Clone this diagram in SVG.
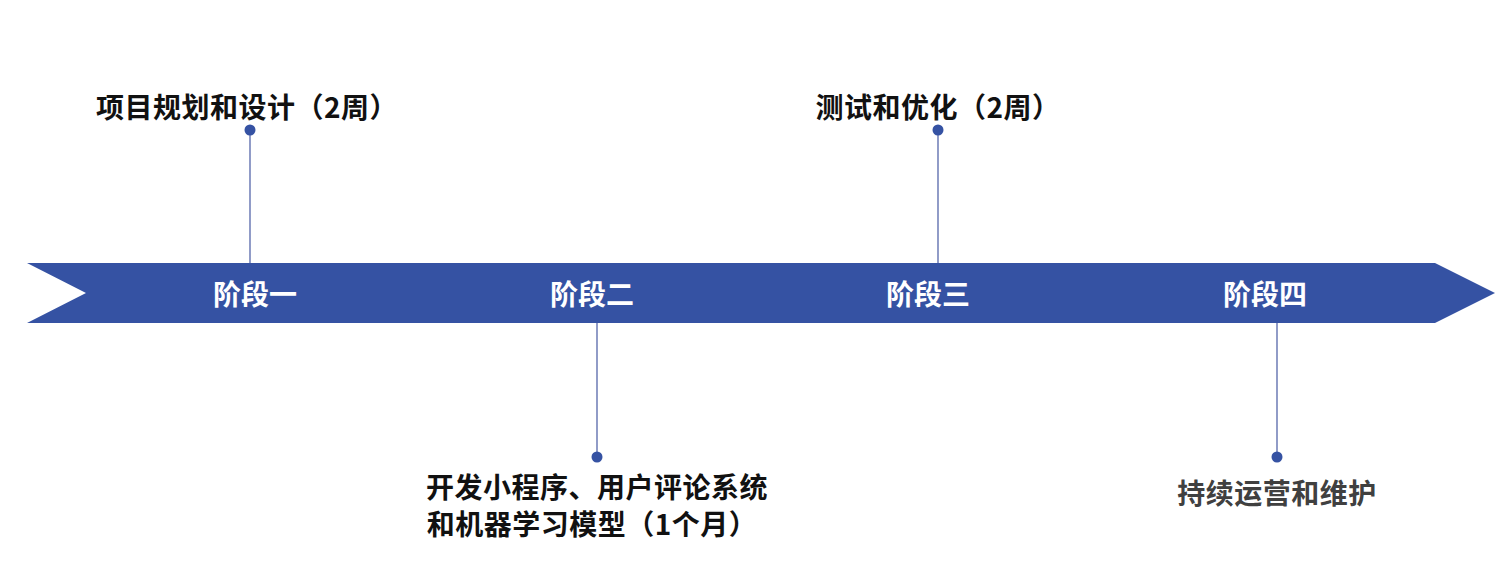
<svg xmlns="http://www.w3.org/2000/svg" width="1504" height="568" viewBox="0 0 1504 568">
<style>
.lbl{font-family:"Noto Sans CJK SC","Liberation Sans",sans-serif;font-weight:bold;font-size:28px;letter-spacing:0.5px;fill:#111}
.stage{font-family:"Noto Sans CJK SC","Liberation Sans",sans-serif;font-weight:bold;font-size:28px;fill:#fff}
.ln{stroke:#5566aa;stroke-width:1.3}
.dot{fill:#3552a3}
</style>
<rect width="1504" height="568" fill="#fff"/>
<g id="band">
<polygon points="27,263 1435,263 1495,293 1435,323 27,323 86,293" fill="#3552a3"/>
</g>
<g id="connectors">
<line class="ln" x1="250" y1="130" x2="250" y2="263"/>
<line class="ln" x1="938" y1="130" x2="938" y2="263"/>
<line class="ln" x1="597" y1="323" x2="597" y2="457"/>
<line class="ln" x1="1277" y1="323" x2="1277" y2="457"/>
</g>
<g id="stage1">
<text class="stage" x="255" y="305" text-anchor="middle">阶段一</text>
<circle class="dot" cx="250" cy="130" r="5.5"/>
<text class="lbl" x="247" y="118" text-anchor="middle">项目规划和设计（2周）</text>
</g>
<g id="stage2">
<text class="stage" x="592" y="305" text-anchor="middle">阶段二</text>
<circle class="dot" cx="597" cy="457" r="5.5"/>
<text class="lbl" x="597" y="498" text-anchor="middle">开发小程序、用户评论系统</text>
<text class="lbl" x="592" y="535" text-anchor="middle">和机器学习模型（1个月）</text>
</g>
<g id="stage3">
<text class="stage" x="928" y="305" text-anchor="middle">阶段三</text>
<circle class="dot" cx="938" cy="130" r="5.5"/>
<text class="lbl" x="938" y="118" text-anchor="middle">测试和优化（2周）</text>
</g>
<g id="stage4">
<text class="stage" x="1265" y="305" text-anchor="middle">阶段四</text>
<circle class="dot" cx="1277" cy="457" r="5.5"/>
<text class="lbl" x="1277" y="504" text-anchor="middle" style="fill:#404040">持续运营和维护</text>
</g>
</svg>
